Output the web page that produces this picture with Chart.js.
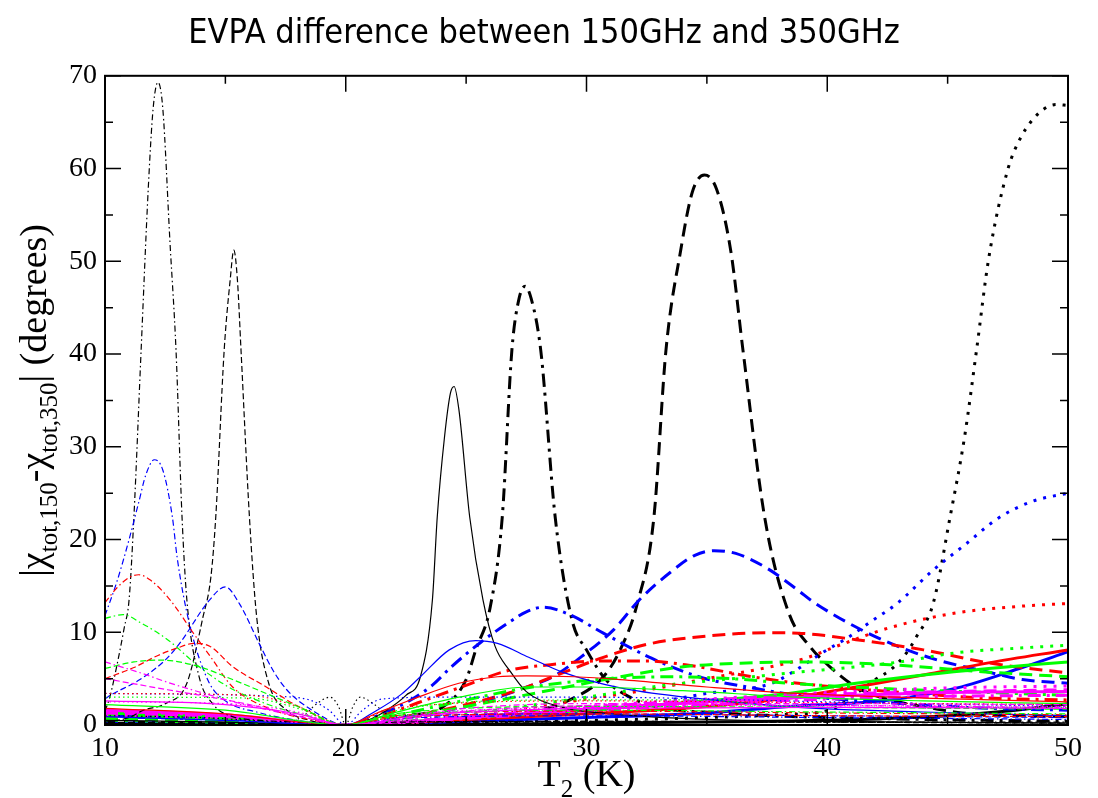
<!DOCTYPE html>
<html>
<head>
<meta charset="utf-8">
<script src="https://cdn.jsdelivr.net/npm/chart.js@4.4.1/dist/chart.umd.min.js"></script>
<style>
html,body{margin:0;padding:0;background:#fff;}
canvas{display:block;}
</style>
</head>
<body>
<canvas id="c" width="1098" height="798"></canvas>
<script>
// ---------------- DATA ----------------
const X_TICKS = [10, 20, 30, 40, 50];
const Y_TICKS = [0, 10, 20, 30, 40, 50, 60, 70];

// thin lines
const T_kDDthin = [10, 10.2, 10.5, 10.8, 11.0, 11.2, 11.5, 11.8, 12.0, 12.2, 12.4, 12.7, 12.95, 13.2, 13.4, 13.9, 14.5, 15.3, 16, 18, 20, 25, 30, 40, 50];
const V_kDDthin = [1.5, 3.0, 6.5, 10.5, 13.5, 22.4, 40.4, 58, 66.5, 69.3, 66.5, 52, 40.4, 22.4, 13.5, 5.3, 2.2, 0.9, 0.6, 0.3, 0, 0.3, 0.4, 0.3, 0.3];
const T_kDASHthin = [10, 11, 11.6, 12.5, 13.4, 14.07, 14.4, 14.6, 14.95, 15.2, 15.35, 15.5, 15.65, 16.0, 16.3, 16.8, 17.55, 18.5, 20, 22, 30, 40, 50];
const V_kDASHthin = [0.3, 0.8, 1.6, 2.3, 4.5, 11.65, 16, 22.4, 40.4, 48, 51.2, 48, 40.4, 22.4, 11.65, 4.5, 1.6, 0.5, 0, 0.3, 0.4, 0.3, 0.2];
const T_kDOTthin = [10, 14, 16, 17.5, 18.2, 18.8, 19.35, 19.7, 20, 20.3, 20.6, 21.2, 21.8, 23, 30, 40, 50];
const V_kDOTthin = [1.0, 0.8, 0.5, 0.3, 0.9, 2.3, 3.0, 2.0, 0, 2.0, 3.0, 2.2, 1.0, 0.4, 0.3, 0.3, 0.2];
const T_kSOLthin = [10, 15, 20, 21, 21.7, 22.5, 23.1, 23.6, 23.8, 24.1, 24.35, 24.5, 24.7, 25.15, 25.7, 26.2, 26.8, 27.5, 29, 31, 35, 40, 50];
const V_kSOLthin = [0.5, 0.3, 0, 0.6, 1.6, 3.2, 5.2, 13.5, 22.4, 31, 35.8, 36.5, 34, 22.4, 13.5, 8.5, 5.9, 3.6, 1.9, 1.2, 0.6, 0.4, 0.2];

const T_bDDthin = [10, 10.5, 11.0, 11.4, 11.7, 12.05, 12.4, 12.8, 13.0, 13.5, 14.3, 15.0, 16.3, 18, 20, 23, 30, 40, 50];
const V_bDDthin = [11.8, 15.5, 20, 24, 27, 28.6, 27.5, 22.4, 18, 11, 4.7, 2.6, 1.4, 0.5, 0, 0.8, 1.0, 0.8, 0.6];
const T_bDASHthin = [10, 10.1, 11.45, 12.5, 13.1, 14.35, 15.0, 15.6, 16.4, 17.0, 17.55, 18.6, 20, 23, 30, 40, 50];
const V_bDASHthin = [2.8, 3.0, 4.9, 7.0, 8.8, 13.5, 14.9, 13.0, 8.8, 5.8, 3.8, 1.6, 0, 1.0, 1.2, 1.0, 0.8];
const T_bDOTthin = [10, 14, 17, 18.5, 19.3, 20, 20.7, 21.5, 24, 30, 40, 50];
const V_bDOTthin = [3.4, 3.3, 3.1, 2.7, 1.6, 0, 1.6, 2.8, 3.0, 3.0, 2.5, 2.0];
const T_bSOLthin = [10, 15, 20, 21.3, 22.3, 23.1, 24.3, 25.4, 26.3, 27.6, 29.0, 31.4, 34.1, 38.8, 44, 50];
const V_bSOLthin = [0.9, 0.5, 0, 1.6, 3.3, 5.2, 8.1, 9.1, 8.8, 7.3, 5.7, 4.0, 3.0, 1.9, 1.4, 1.0];

const T_rDDthin = [10, 10.5, 11.0, 11.4, 11.9, 12.7, 13.7, 14.4, 15.3, 17.0, 18.5, 20, 22, 30, 40, 50];
const V_rDDthin = [13.2, 14.8, 15.9, 16.2, 15.6, 13.5, 9.8, 7.3, 4.1, 1.6, 0.6, 0, 1.0, 1.5, 1.3, 1.1];
const T_rDASHthin = [10, 11.2, 12.2, 13.0, 13.7, 14.35, 15.3, 16.7, 18.1, 20, 22, 30, 40, 50];
const V_rDASHthin = [5.0, 6.2, 7.5, 8.3, 8.8, 8.5, 6.3, 4.1, 1.9, 0, 0.8, 1.2, 1.0, 0.9];
const T_rDOTthin = [10, 16, 18, 20, 22, 30, 40, 50];
const V_rDOTthin = [3.4, 3.2, 2.0, 0, 1.8, 2.6, 2.4, 2.2];
const T_rSOLthin = [10, 15, 20, 21.3, 22.7, 24.7, 26.3, 27.5, 29.5, 31.4, 35, 38.8, 44, 50];
const V_rSOLthin = [1.8, 1.2, 0, 1.3, 2.7, 4.5, 5.2, 5.3, 5.2, 4.9, 4.1, 3.4, 2.9, 2.5];

const T_gDDthin = [10, 10.75, 11.5, 12.6, 13.9, 15, 16, 17.5, 18.6, 20, 22, 30, 40, 50];
const V_gDDthin = [11.5, 11.9, 11.0, 9.2, 6.3, 4.3, 3.0, 1.6, 0.9, 0, 1.0, 1.6, 1.4, 1.2];
const T_gDASHthin = [10, 11.2, 12.3, 13.9, 15.3, 16.7, 18.1, 20, 22, 30, 40, 50];
const V_gDASHthin = [6.1, 6.8, 7.0, 6.3, 4.9, 3.4, 1.9, 0, 1.2, 2.0, 1.9, 1.7];
const T_gDOTthin = [10, 16, 18, 20, 22, 26, 30, 35, 38, 44, 50];
const V_gDOTthin = [3.0, 2.9, 1.8, 0, 1.5, 2.6, 2.7, 2.7, 2.0, 1.9, 1.9];
const T_gSOLthin = [10, 15, 20, 22, 24.7, 27.6, 30, 34, 38.8, 44, 50];
const V_gSOLthin = [2.2, 1.6, 0, 1.3, 3.0, 4.1, 4.1, 3.7, 3.0, 2.6, 2.3];

const T_mDDthin = [10, 11.5, 12.6, 14, 15.5, 17, 18.5, 20, 25, 30, 40, 50];
const V_mDDthin = [6.8, 5.6, 4.6, 3.5, 2.4, 1.5, 0.7, 0, 1.8, 2.3, 2.1, 1.9];
const T_mDASHthin = [10, 12.6, 14.4, 16, 18, 20, 25, 30, 40, 50];
const V_mDASHthin = [5.0, 3.8, 3.0, 2.2, 1.0, 0, 1.5, 2.1, 2.3, 2.2];
const T_mDOTthin = [10, 15, 18, 20, 23, 30, 40, 50];
const V_mDOTthin = [2.5, 2.3, 1.4, 0, 1.2, 1.9, 2.1, 2.0];
const T_mSOLthin = [10, 15, 18, 20, 23, 30, 40, 50];
const V_mSOLthin = [2.6, 2.2, 1.2, 0, 1.0, 1.8, 1.9, 1.8];

// thick lines
const T_kDDthick = [10, 15, 20, 21.5, 22.5, 24.0, 25.0, 25.4, 26.0, 26.5, 26.9, 27.2, 27.45, 27.7, 28.1, 28.7, 29.4, 30.0, 30.8, 31.8, 33.0, 35.5, 38.8, 44, 50];
const V_kDDthick = [0.3, 0.2, 0, 0.5, 1.0, 1.9, 4.9, 8.1, 12.7, 22.4, 40.4, 46, 47.3, 46, 40.4, 22.4, 11.3, 8.1, 4.9, 3.0, 1.9, 1.3, 0.9, 0.6, 0.4];
const T_kDASHthick = [10, 15, 20, 22, 24.3, 26, 28, 29.3, 30.7, 31.4, 32.1, 32.8, 33.3, 33.9, 34.4, 34.9, 35.4, 36.0, 36.5, 37.4, 38.4, 39.3, 40.1, 41.2, 42.6, 44.2, 45.6, 50];
const V_kDASHthick = [0.2, 0.1, 0, 0.3, 0.7, 1.1, 1.6, 2.7, 5.2, 8.1, 13, 22.4, 40.4, 51, 57.5, 59.3, 57.8, 51, 40.4, 22.4, 12.1, 8.4, 6.3, 4.1, 2.7, 1.9, 1.3, 0.9];
const T_kDOTthick = [10, 15, 20, 25, 30, 35, 38, 40.1, 41.2, 42.0, 42.7, 43.3, 43.7, 44.4, 45.1, 45.7, 46.2, 46.7, 47.5, 48.05, 48.8, 49.5, 50];
const V_kDOTthick = [0.2, 0.1, 0, 0.3, 0.5, 0.8, 1.1, 1.6, 3.4, 4.9, 6.1, 7.8, 9.5, 13.1, 22.4, 31, 40.4, 50.2, 59.9, 63.4, 66.0, 66.9, 66.8];
const T_kSOLthick = [10, 15, 20, 30, 40, 45, 47.5, 50];
const V_kSOLthick = [0.2, 0.1, 0, 0.2, 0.5, 1.0, 1.5, 2.3];

const T_bDDthick = [10, 15, 20, 21.5, 22.7, 23.6, 24.4, 25.6, 26.8, 27.5, 28.2, 29.3, 30.7, 32.7, 34.8, 36.9, 38.8, 42.6, 46.7, 50];
const V_bDDthick = [0.9, 0.6, 0, 1.2, 2.7, 4.3, 6.3, 8.9, 11.1, 12.2, 12.7, 11.9, 9.9, 7.2, 5.1, 4.0, 3.2, 2.4, 1.8, 1.6];
const T_bDASHthick = [10, 15, 20, 22, 24.3, 26.3, 27.2, 28.6, 30.0, 31.1, 32.2, 33.5, 34.5, 35.3, 36.2, 37.5, 38.8, 39.4, 41.7, 44.2, 46.7, 48.1, 50];
const V_bDASHthick = [0.6, 0.4, 0, 0.7, 1.6, 3.0, 3.8, 5.2, 7.8, 10.2, 13.5, 16.5, 18.3, 18.8, 18.5, 16.9, 14.5, 13.3, 9.9, 7.3, 5.7, 4.9, 4.5];
const T_bDOTthick = [10, 15, 20, 25, 30, 33, 35, 37.7, 38.5, 39.8, 40.9, 41.9, 42.9, 44.4, 45.8, 47.1, 48.5, 50];
const V_bDOTthick = [0.4, 0.3, 0, 0.6, 1.5, 2.5, 3.4, 4.5, 5.6, 7.8, 9.5, 11.3, 13.1, 16.7, 19.6, 22.3, 24.1, 25.0];
const T_bSOLthick = [10, 15, 20, 25, 30, 35, 38.4, 42.6, 45.4, 48.1, 50];
const V_bSOLthick = [1.0, 0.7, 0, 0.4, 0.8, 1.3, 2.0, 2.7, 4.0, 6.2, 7.9];

const T_rDDthick = [10, 15, 20, 21.5, 23, 24.7, 26.8, 28.5, 30.5, 32.5, 34.1, 36.9, 38.8, 42.6, 46.7, 50];
const V_rDDthick = [1.2, 0.8, 0, 1.0, 2.4, 4.0, 5.9, 6.5, 6.9, 6.9, 6.5, 5.2, 4.5, 3.6, 2.9, 2.7];
const T_rDASHthick = [10, 15, 20, 22, 24, 25.6, 27.2, 28.6, 30.7, 32.7, 35.5, 37.5, 38.8, 41.2, 44, 46.7, 50];
const V_rDASHthick = [0.8, 0.5, 0, 0.6, 1.6, 2.6, 3.8, 5.2, 7.3, 8.8, 9.7, 9.95, 9.9, 9.2, 8.1, 6.7, 5.6];
const T_rDOTthick = [10, 15, 20, 25, 30, 33, 35, 37.7, 39.1, 40.5, 42.6, 45.4, 48, 50];
const V_rDOTthick = [0.6, 0.4, 0, 1.0, 2.8, 4.0, 5.0, 6.3, 7.2, 8.6, 10.5, 12.1, 12.8, 13.1];
const T_rSOLthick = [10, 15, 20, 25, 30, 35, 38.4, 41.2, 44, 46.7, 50];
const V_rSOLthick = [1.4, 0.9, 0, 0.6, 1.2, 2.0, 2.9, 4.1, 5.4, 6.7, 8.1];

const T_gDDthick = [10, 15, 20, 22, 25, 27.5, 30, 33.4, 36, 38.4, 42.6, 46.7, 50];
const V_gDDthick = [1.1, 0.7, 0, 1.0, 2.7, 4.0, 4.8, 5.2, 5.0, 4.5, 3.9, 3.5, 3.2];
const T_gDASHthick = [10, 15, 20, 22, 24, 26, 28.6, 31.4, 34.1, 36.9, 38.8, 42.6, 46.7, 50];
const V_gDASHthick = [0.7, 0.5, 0, 0.6, 1.5, 2.5, 3.8, 5.2, 6.3, 6.7, 6.8, 6.5, 5.7, 5.2];
const T_gDOTthick = [10, 15, 20, 25, 30, 33, 36.9, 38.4, 40.5, 43, 45.4, 48, 50];
const V_gDOTthick = [0.5, 0.3, 0, 1.2, 3.0, 4.2, 5.2, 5.6, 6.1, 6.8, 7.8, 8.3, 8.6];
const T_gSOLthick = [10, 15, 20, 25, 30, 35, 38.4, 41.2, 44, 46.7, 50];
const V_gSOLthick = [1.3, 0.9, 0, 0.8, 1.6, 2.6, 3.4, 4.5, 5.4, 6.1, 6.8];

const T_mDDthick = [10, 15, 20, 25, 30, 35, 40, 45, 50];
const V_mDDthick = [1.5, 1.0, 0, 0.7, 1.5, 2.2, 2.8, 3.1, 3.2];
const T_mDASHthick = [10, 15, 20, 25, 30, 35, 40, 45, 50];
const V_mDASHthick = [1.3, 0.9, 0, 0.9, 1.9, 2.7, 3.3, 3.6, 3.8];
const T_mDOTthick = [10, 15, 20, 25, 30, 35, 40, 45, 50];
const V_mDOTthick = [1.0, 0.7, 0, 1.0, 2.0, 2.8, 3.5, 4.0, 4.2];
const T_mSOLthick = [10, 15, 20, 25, 30, 35, 40, 45, 50];
const V_mSOLthick = [1.6, 1.1, 0, 0.8, 1.7, 2.5, 3.1, 3.5, 3.6];

// ---------------- STYLES ----------------
const COL = {k:'#000000', r:'#ff0000', g:'#00ff00', b:'#0000ff', m:'#ff00ff'};
const THIN = 1.2, THICK = 3;
const DASH = {
  thin:  {SOL:[], DASH:[6,3], DOT:[1.5,3], DD:[6,3,1.5,3]},
  thick: {SOL:[], DASH:[13,7], DOT:[3,7], DD:[13,6,3,6]}
};

const SERIES = [
  ['mSOLthin', T_mSOLthin, V_mSOLthin], ['mDOTthin', T_mDOTthin, V_mDOTthin], ['mDASHthin', T_mDASHthin, V_mDASHthin], ['mDDthin', T_mDDthin, V_mDDthin],
  ['gSOLthin', T_gSOLthin, V_gSOLthin], ['gDOTthin', T_gDOTthin, V_gDOTthin], ['gDASHthin', T_gDASHthin, V_gDASHthin], ['gDDthin', T_gDDthin, V_gDDthin],
  ['rSOLthin', T_rSOLthin, V_rSOLthin], ['rDOTthin', T_rDOTthin, V_rDOTthin], ['rDASHthin', T_rDASHthin, V_rDASHthin], ['rDDthin', T_rDDthin, V_rDDthin],
  ['bSOLthin', T_bSOLthin, V_bSOLthin], ['bDOTthin', T_bDOTthin, V_bDOTthin], ['bDASHthin', T_bDASHthin, V_bDASHthin], ['bDDthin', T_bDDthin, V_bDDthin],
  ['kSOLthin', T_kSOLthin, V_kSOLthin], ['kDOTthin', T_kDOTthin, V_kDOTthin], ['kDASHthin', T_kDASHthin, V_kDASHthin], ['kDDthin', T_kDDthin, V_kDDthin],
  ['mSOLthick', T_mSOLthick, V_mSOLthick], ['mDOTthick', T_mDOTthick, V_mDOTthick], ['mDASHthick', T_mDASHthick, V_mDASHthick], ['mDDthick', T_mDDthick, V_mDDthick],
  ['gSOLthick', T_gSOLthick, V_gSOLthick], ['gDOTthick', T_gDOTthick, V_gDOTthick], ['gDASHthick', T_gDASHthick, V_gDASHthick], ['gDDthick', T_gDDthick, V_gDDthick],
  ['rSOLthick', T_rSOLthick, V_rSOLthick], ['rDOTthick', T_rDOTthick, V_rDOTthick], ['rDASHthick', T_rDASHthick, V_rDASHthick], ['rDDthick', T_rDDthick, V_rDDthick],
  ['bSOLthick', T_bSOLthick, V_bSOLthick], ['bDOTthick', T_bDOTthick, V_bDOTthick], ['bDASHthick', T_bDASHthick, V_bDASHthick], ['bDDthick', T_bDDthick, V_bDDthick],
  ['kSOLthick', T_kSOLthick, V_kSOLthick], ['kDOTthick', T_kDOTthick, V_kDOTthick], ['kDASHthick', T_kDASHthick, V_kDASHthick], ['kDDthick', T_kDDthick, V_kDDthick]
];

function makeDataset(name, T, V) {
  const c = name[0];
  const thick = name.endsWith('thick');
  const style = name.slice(1).replace(/thin|thick/, '');
  return {
    label: name,
    data: T.map((t, i) => ({x: t, y: V[i]})),
    borderColor: COL[c],
    borderWidth: thick ? THICK : THIN,
    borderDash: DASH[thick ? 'thick' : 'thin'][style],
    pointRadius: 0,
    showLine: true,
    fill: false,
    cubicInterpolationMode: 'monotone'
  };
}

const SERIF = "'Liberation Serif', 'Times New Roman', serif";
const BIG = 38, SUB = 25, SUBSHIFT = 11;

function drawRich(ctx, parts, x, y, align) {
  let w = 0;
  parts.forEach(p => { ctx.font = `${p[1] ? SUB : BIG}px ${SERIF}`; w += ctx.measureText(p[0]).width; });
  let cx = align === 'center' ? x - w / 2 : x;
  parts.forEach(p => {
    ctx.font = `${p[1] ? SUB : BIG}px ${SERIF}`;
    ctx.fillText(p[0], cx, y + (p[1] ? SUBSHIFT : 0));
    cx += ctx.measureText(p[0]).width;
  });
}

const decor = {
  id: 'decor',
  afterDatasetsDraw(chart) {
    const {ctx, chartArea: a, scales: {x, y}} = chart;
    ctx.save();
    ctx.strokeStyle = '#000';
    ctx.lineWidth = 1.5;
    ctx.beginPath();
    for (let v = 10; v <= 50; v += 5) {
      const px = x.getPixelForValue(v);
      const len = v % 10 === 0 ? 16 : 8;
      ctx.moveTo(px, a.bottom); ctx.lineTo(px, a.bottom - len);
      ctx.moveTo(px, a.top); ctx.lineTo(px, a.top + len);
    }
    for (let v = 0; v <= 70; v += 5) {
      const py = y.getPixelForValue(v);
      const len = v % 10 === 0 ? 16 : 8;
      ctx.moveTo(a.left, py); ctx.lineTo(a.left + len, py);
      ctx.moveTo(a.right, py); ctx.lineTo(a.right - len, py);
    }
    ctx.stroke();
    ctx.lineWidth = 2;
    ctx.strokeRect(a.left, a.top, a.right - a.left, a.bottom - a.top);
    ctx.restore();
  },
  afterDraw(chart) {
    const {ctx, chartArea: a} = chart;
    ctx.save();
    ctx.fillStyle = '#000';
    ctx.textBaseline = 'alphabetic';
    // x-axis title
    drawRich(ctx, [['T', false], ['2', true], [' (K)', false]], (a.left + a.right) / 2, 786, 'center');
    // y-axis title
    ctx.translate(46, (a.top + a.bottom) / 2);
    ctx.rotate(-Math.PI / 2);
    drawRich(ctx, [['|\u03c7', false], ['tot,150', true], ['-\u03c7', false], ['tot,350', true], ['| (degrees)', false]], 0, 0, 'center');
    ctx.restore();
  }
};

new Chart(document.getElementById('c'), {
  type: 'scatter',
  data: { datasets: SERIES.map(s => makeDataset(s[0], s[1], s[2])) },
  options: {
    responsive: false,
    animation: false,
    devicePixelRatio: 1,
    layout: { padding: { left: 20, right: 30, top: 0, bottom: 0 } },
    plugins: {
      legend: { display: false },
      tooltip: { enabled: false },
      title: {
        display: true,
        text: 'EVPA difference between 150GHz and 350GHz',
        color: '#000',
        font: { family: "'DejaVu Sans Condensed', 'DejaVu Sans', sans-serif", size: 34, weight: 'normal', lineHeight: 1.2 },
        padding: { top: 14, bottom: 21 }
      }
    },
    scales: {
      x: {
        type: 'linear', min: 10, max: 50,
        afterBuildTicks(s) { s.ticks = X_TICKS.map(v => ({value: v})); },
        ticks: { color: '#000', font: { family: SERIF, size: 28 }, padding: 7, maxRotation: 0 },
        grid: { display: false, drawTicks: false },
        border: { display: false },
        afterFit(s) { s.height = 73; }
      },
      y: {
        type: 'linear', min: 0, max: 70,
        afterBuildTicks(s) { s.ticks = Y_TICKS.map(v => ({value: v})); },
        ticks: { color: '#000', font: { family: SERIF, size: 28 }, padding: 8 },
        grid: { display: false, drawTicks: false },
        border: { display: false },
        afterFit(s) { s.width = 85; }
      }
    }
  },
  plugins: [decor]
});
</script>
</body>
</html>
